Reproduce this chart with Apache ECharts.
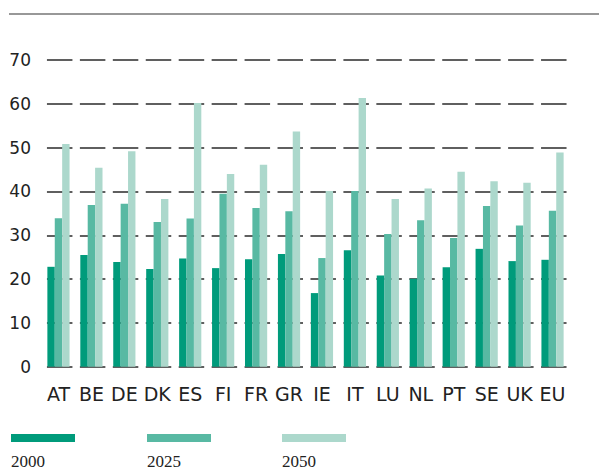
<!DOCTYPE html>
<html>
<head>
<meta charset="utf-8">
<script src="https://cdn.jsdelivr.net/npm/echarts@6/dist/echarts.min.js"></script>
<style>
  html, body { margin: 0; padding: 0; background: #fff; }
  #chart { width: 599px; height: 471px; }
</style>
</head>
<body>
<div id="chart"></div>
<script>
const countries = ["AT", "BE", "DE", "DK", "ES", "FI", "FR", "GR", "IE", "IT", "LU", "NL", "PT", "SE", "UK", "EU"];
const years = ["2000", "2025", "2050"];
const values2000 = [22.8, 25.5, 23.9, 22.3, 24.7, 22.5, 24.5, 25.7, 16.8, 26.6, 20.8, 20.1, 22.7, 26.9, 24.1, 24.4];
const values2025 = [33.9, 36.9, 37.2, 33.0, 33.8, 39.5, 36.2, 35.5, 24.8, 40.1, 30.3, 33.4, 29.4, 36.7, 32.2, 35.6];
const values2050 = [50.8, 45.4, 49.2, 38.3, 60.2, 44.0, 46.1, 53.7, 40.1, 61.3, 38.3, 40.7, 44.5, 42.3, 42.0, 48.9];
const colors = ["#009b7b", "#58b9a3", "#acd8cc"];

const chart = echarts.init(document.getElementById("chart"), null, { renderer: "svg" });

const makeBar = (name, data, color) => ({
  name: name,
  type: "bar",
  data: data,
  barWidth: 7.4,
  barGap: "0%",
  itemStyle: { color: color },
  z: 3,
});

// one legend per year: swatch only, the year label sits underneath
const legendLefts = [11, 147, 282];
const legends = years.map((y, i) => ({
  data: [y],
  left: legendLefts[i],
  top: 434,
  padding: 0,
  icon: "rect",
  itemWidth: 64,
  itemHeight: 8,
  selectedMode: false,
  formatter: () => "",
}));

chart.setOption({
  animation: false,
  grid: { left: 42, right: 30, top: 60, bottom: 104.3 },
  legend: legends,
  xAxis: {
    type: "category",
    data: countries,
    axisLine: { show: false },
    axisTick: { show: false },
    axisLabel: {
      interval: 0,
      margin: 18,
      color: "#222",
      fontSize: 19,
      fontFamily: "DejaVu Sans",
    },
  },
  yAxis: {
    type: "value",
    min: 0,
    max: 70,
    interval: 10,
    axisLine: { show: false },
    axisTick: { show: false },
    axisLabel: {
      margin: 11,
      padding: [0, 0, 7, 0],
      color: "#222",
      fontSize: 17,
      fontFamily: "DejaVu Sans",
    },
    splitLine: {
      show: true,
      lineStyle: { color: "#2b2b2b", width: 1.6, type: [25.5, 7.44], dashOffset: 28.24 },
    },
  },
  graphic: [
    {
      type: "line",
      shape: { x1: 9, y1: 14, x2: 599, y2: 14 },
      style: { stroke: "#333", lineWidth: 1.2 },
    },
  ].concat(years.map((y, i) => ({
    type: "text",
    left: legendLefts[i],
    top: 453,
    style: { text: y, fill: "#222", font: "17px 'Liberation Serif'" },
  }))),
  series: [
    makeBar(years[0], values2000, colors[0]),
    makeBar(years[1], values2025, colors[1]),
    makeBar(years[2], values2050, colors[2]),
  ],
});
</script>
</body>
</html>
